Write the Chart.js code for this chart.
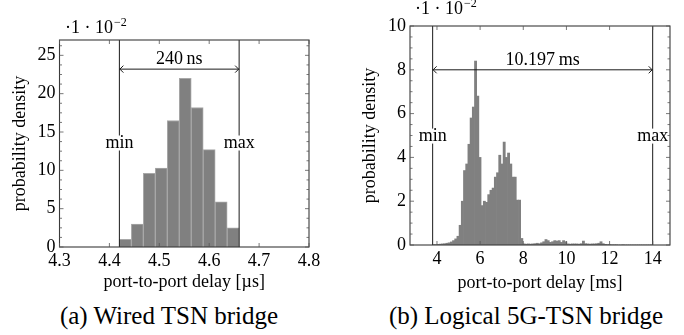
<!DOCTYPE html>
<html>
<head>
<meta charset="utf-8">
<script src="https://cdn.jsdelivr.net/npm/chart.js@4.4.1/dist/chart.umd.min.js"></script>
<style>
  html, body { margin: 0; padding: 0; background: #fff; }
  #wrap { position: relative; width: 684px; height: 335px; overflow: hidden; }
  .box { position: absolute; top: 0; width: 342px; height: 300px; }
  .caption {
    position: absolute; top: 302px; white-space: nowrap;
    font-family: "Liberation Serif", serif; font-size: 25px;
    transform: translateX(-50%);
  }
</style>
</head>
<body>
<div id="wrap">
  <div class="box" style="left:0"><canvas id="wired" width="342" height="300"></canvas></div>
  <div class="box" style="left:342px"><canvas id="logical" width="342" height="300"></canvas></div>
  <div class="caption" style="left:169px">(a) Wired TSN bridge</div>
  <div class="caption" style="left:526px">(b) Logical 5G-TSN bridge</div>
</div>
<script>
// (a) wired bridge, delay in µs, density ·10^-2
const wiredBinStart = 4.42;
const wiredBinWidth = 0.024;
const wiredDensity = [1.0, 3.0, 9.6, 10.3, 16.5, 22.0, 18.2, 12.7, 5.9, 2.5];
const wiredMin = 4.42;
const wiredMax = 4.66;
const wiredXTicks = [4.3, 4.4, 4.5, 4.6, 4.7, 4.8];
const wiredYTicks = [0, 5, 10, 15, 20, 25];

// (b) logical 5G-TSN bridge, delay in ms, density ·10^-2
const logicalBinStart = 3.8;
const logicalBinWidth = 0.102;
const logicalDensity = [
  0.02, 0.02, 0.03, 0.04, 0.05, 0.06, 0.08, 0.10, 0.14, 0.20,
  0.28, 0.40, 0.90, 2.00, 3.40, 3.70, 4.60, 5.80, 6.30, 8.40,
  6.80, 4.00, 1.80, 2.00, 1.95, 2.30, 2.50, 2.60, 3.10, 3.30,
  4.10, 3.70, 4.70, 4.00, 4.20, 3.70, 3.10, 3.10, 2.05, 2.05,
  0.30, 0.05, 0.04, 0.05, 0.04, 0.05, 0.06, 0.08, 0.06, 0.10,
  0.15, 0.25, 0.20, 0.12, 0.15, 0.20, 0.18, 0.20, 0.12, 0.20,
  0.15, 0.05, 0.04, 0.05, 0.05, 0.05, 0.04, 0.06, 0.18, 0.06,
  0.05, 0.04, 0.05, 0.05, 0.06, 0.08, 0.15, 0.06, 0.03, 0.02,
  0.02, 0.01, 0.01, 0.01, 0, 0, 0.01, 0, 0, 0,
  0, 0, 0, 0, 0, 0, 0, 0, 0, 0.01
];
const logicalMin = 3.8;
const logicalMax = 13.997;
const logicalXTicks = [4, 6, 8, 10, 12, 14];
const logicalYTicks = [0, 2, 4, 6, 8, 10];

const serif = '"Liberation Serif", serif';

const toBins = (start, width, values) =>
  values.map((v, i) => ({ x: start + width * (i + 0.5), y: v }));

function seg(ctx, x1, y1, x2, y2) {
  ctx.beginPath();
  ctx.moveTo(x1, y1);
  ctx.lineTo(x2, y2);
  ctx.stroke();
}

const framePlugin = {
  id: 'frame',
  afterDatasetsDraw(chart, args, o) {
    const { ctx, chartArea: a, scales: { x, y } } = chart;
    ctx.save();

    // min / max markers
    ctx.strokeStyle = '#1a1a1a';
    ctx.lineWidth = 1;
    const xMin = x.getPixelForValue(o.min);
    const xMax = x.getPixelForValue(o.max);
    seg(ctx, xMin, a.top, xMin, a.bottom);
    seg(ctx, xMax, a.top, xMax, a.bottom);

    // double arrow with range text
    const ya = y.getPixelForValue(o.arrowY);
    seg(ctx, xMin, ya, xMax, ya);
    ctx.beginPath();
    ctx.moveTo(xMin + 4, ya - 3.5); ctx.lineTo(xMin + 0.5, ya); ctx.lineTo(xMin + 4, ya + 3.5);
    ctx.moveTo(xMax - 4, ya - 3.5); ctx.lineTo(xMax - 0.5, ya); ctx.lineTo(xMax - 4, ya + 3.5);
    ctx.stroke();

    ctx.fillStyle = '#000';
    ctx.font = `18px ${serif}`;
    ctx.textAlign = 'center';
    ctx.textBaseline = 'middle';
    ctx.fillText(o.rangeLabel, (xMin + xMax) / 2, ya - 10);

    const ym = y.getPixelForValue(o.markY);
    ['min', 'max'].forEach((t, i) => {
      const px = i === 0 ? xMin : xMax;
      const w = ctx.measureText(t).width;
      ctx.fillStyle = '#fff';
      ctx.fillRect(px - w / 2 - 1, ym - 8, w + 2, 15);
      ctx.fillStyle = '#000';
      ctx.fillText(t, px, ym);
    });

    // pgfplots style box with inward ticks on all sides
    ctx.strokeStyle = '#3a3a3a';
    ctx.lineWidth = 1.1;
    ctx.strokeRect(a.left, a.top, a.right - a.left, a.bottom - a.top);
    ctx.lineWidth = 0.8;
    ctx.strokeStyle = '#555';
    o.xTicks.forEach(v => {
      const px = x.getPixelForValue(v);
      seg(ctx, px, a.bottom, px, a.bottom - 4);
      seg(ctx, px, a.top, px, a.top + 4);
    });
    for (let v = 0; v <= y.max + 1e-9; v += o.minorY) {
      const major = o.yTicks.some(t => Math.abs(t - v) < 1e-6);
      const len = major ? 4 : 2.5;
      const py = y.getPixelForValue(v);
      seg(ctx, a.left, py, a.left + len, py);
      seg(ctx, a.right, py, a.right - len, py);
    }

    // scale factor label
    ctx.fillStyle = '#000';
    ctx.textAlign = 'left';
    ctx.textBaseline = 'alphabetic';
    ctx.font = `18px ${serif}`;
    const base = '\u00b71 \u00b7 10';
    ctx.fillText(base, o.expX, o.expY);
    const bw = ctx.measureText(base).width;
    ctx.font = `12px ${serif}`;
    ctx.fillText('\u22122', o.expX + bw + 1, o.expY - 7);

    ctx.restore();
  }
};

function makeChart(id, c) {
  return new Chart(document.getElementById(id), {
    type: 'bar',
    data: {
      datasets: [{
        data: c.bins,
        backgroundColor: '#808080',
        borderColor: c.edgeColor,
        borderWidth: c.edgeWidth,
        barPercentage: 1,
        categoryPercentage: 1
      }]
    },
    options: {
      responsive: false,
      animation: false,
      layout: { padding: c.pad },
      plugins: {
        legend: { display: false },
        tooltip: { enabled: false },
        frame: c.frame
      },
      scales: {
        x: {
          type: 'linear',
          offset: false,
          min: c.xMin,
          max: c.xMax,
          afterBuildTicks: s => { s.ticks = c.xTicks.map(v => ({ value: v })); },
          afterFit: s => { s.height = c.xHeight; },
          grid: { display: false, drawTicks: false },
          border: { display: false },
          ticks: {
            color: '#000', padding: 3, maxRotation: 0, autoSkip: false,
            font: { family: serif, size: 18 },
            callback: c.xFormat
          },
          title: {
            display: true, text: c.xTitle, color: '#000',
            font: { family: serif, size: 18 },
            padding: { top: 0, bottom: c.xTitlePad }
          }
        },
        y: {
          min: 0,
          max: c.yMax,
          afterBuildTicks: s => { s.ticks = c.yTicks.map(v => ({ value: v })); },
          afterFit: s => { s.width = c.yWidth; },
          grid: { display: false, drawTicks: false },
          border: { display: false },
          ticks: {
            color: '#000', padding: 4, autoSkip: false,
            font: { family: serif, size: 18 }
          },
          title: {
            display: true, text: 'probability density', color: '#000',
            font: { family: serif, size: 18 },
            padding: { top: c.yTitlePad, bottom: 0 }
          }
        }
      }
    },
    plugins: [framePlugin]
  });
}

makeChart('wired', {
  bins: toBins(wiredBinStart, wiredBinWidth, wiredDensity),
  edgeColor: '#a8a8a8', edgeWidth: 1,
  pad: { left: 0, top: 40, right: 33, bottom: 0 },
  xMin: 4.3, xMax: 4.8, xTicks: wiredXTicks, xHeight: 53,
  xFormat: v => v.toFixed(1),
  xTitle: 'port-to-port delay [\u00b5s]', xTitlePad: 7,
  yMax: 27, yTicks: wiredYTicks, yWidth: 59.5, yTitlePad: 9,
  frame: {
    min: wiredMin, max: wiredMax, arrowY: 23.2, markY: 13.5,
    rangeLabel: '240\u2009ns',
    xTicks: wiredXTicks, yTicks: wiredYTicks, minorY: 1.25,
    expX: 65, expY: 33
  }
});

makeChart('logical', {
  bins: toBins(logicalBinStart, logicalBinWidth, logicalDensity),
  edgeColor: '#808080', edgeWidth: 0,
  pad: { left: 0, top: 26, right: 14, bottom: 0 },
  xMin: 2.75, xMax: 14.8, xTicks: logicalXTicks, xHeight: 55,
  xFormat: v => String(v),
  xTitle: 'port-to-port delay [ms]', xTitlePad: 6,
  yMax: 10, yTicks: logicalYTicks, yWidth: 68, yTitlePad: 17,
  frame: {
    min: logicalMin, max: logicalMax, arrowY: 8, markY: 4.95,
    rangeLabel: '10.197\u2009ms',
    xTicks: logicalXTicks, yTicks: logicalYTicks, minorY: 0.5,
    expX: 73, expY: 14
  }
});
</script>
</body>
</html>
